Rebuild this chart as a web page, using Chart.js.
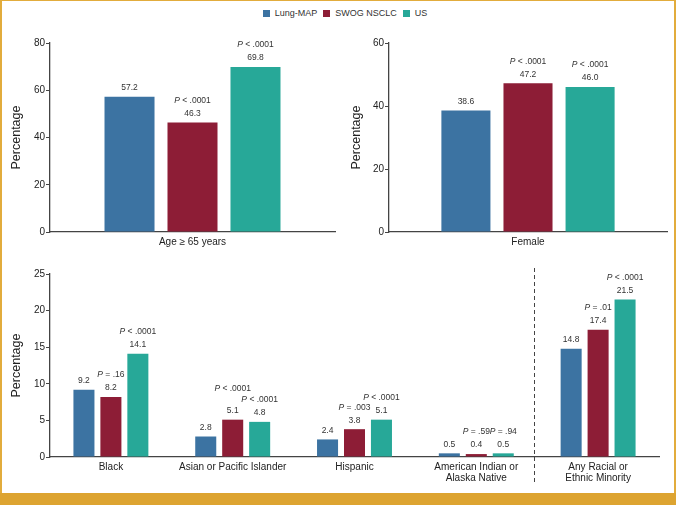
<!DOCTYPE html>
<html>
<head>
<meta charset="utf-8">
<script src="https://cdn.jsdelivr.net/npm/chart.js@4.4.1/dist/chart.umd.min.js"></script>
<style>
  html, body { margin: 0; padding: 0; background: #fff; }
  body { width: 676px; height: 505px; position: relative; overflow: hidden; font-family: "Liberation Sans", Arial, sans-serif; }
  #frame { position: absolute; left: 0; top: 0; width: 676px; height: 505px; box-sizing: border-box;
           border-top: 1px solid #E2AC3C; border-left: 2px solid #E2AC3C; border-right: 2px solid #E2AC3C; }
  #goldbar { position: absolute; left: 0; top: 493px; width: 676px; height: 12px; background: #DDA431; }
  #legend { position: absolute; left: 7px; top: 6px; width: 676px; text-align: center; font-size: 9px; color: #333; line-height: 14px; }
  #legend span.item { display: inline-block; margin: 0 3px; }
  #legend span.box { display: inline-block; width: 7px; height: 7px; margin-right: 5px; vertical-align: -0.5px; }
  .wrap { position: absolute; }
  .wrap canvas { display: block; }
</style>
</head>
<body>
<div id="frame"></div>
<div id="goldbar"></div>
<div id="legend"></div>
<div class="wrap" style="left:0;top:0;width:340px;height:260px;"><canvas id="c1" width="340" height="260"></canvas></div>
<div class="wrap" style="left:340px;top:0;width:336px;height:260px;"><canvas id="c2" width="336" height="260"></canvas></div>
<div class="wrap" style="left:0;top:255px;width:676px;height:238px;"><canvas id="c3" width="676" height="238"></canvas></div>
<script>
// ---------------- DATA ----------------
const seriesNames = ['Lung-MAP', 'SWOG NSCLC', 'US'];
const seriesColors = ['#3C73A2', '#8D1D36', '#27A898'];

const ageCategories = ['Age \u2265 65 years'];
const ageLungMap = [57.2];
const ageSwog = [46.3];
const ageUS = [69.8];
const ageSwogP = ['< .0001'];
const ageUSP = ['< .0001'];
const ageTicks = [0, 20, 40, 60, 80];

const femaleCategories = ['Female'];
const femaleLungMap = [38.6];
const femaleSwog = [47.2];
const femaleUS = [46.0];
const femaleSwogP = ['< .0001'];
const femaleUSP = ['< .0001'];
const femaleTicks = [0, 20, 40, 60];

const raceCategories = ['Black', 'Asian or Pacific Islander', 'Hispanic',
  ['American Indian or', 'Alaska Native'], ['Any Racial or', 'Ethnic Minority']];
const raceLungMap = [9.2, 2.8, 2.4, 0.5, 14.8];
const raceSwog = [8.2, 5.1, 3.8, 0.4, 17.4];
const raceUS = [14.1, 4.8, 5.1, 0.5, 21.5];
const raceSwogP = ['= .16', '< .0001', '= .003', '= .59', '= .01'];
const raceUSP = ['< .0001', '< .0001', '< .0001', '= .94', '< .0001'];
const raceTicks = [0, 5, 10, 15, 20, 25];

// ---------------- LEGEND ----------------
const legendEl = document.getElementById('legend');
seriesNames.forEach((n, i) => {
  const it = document.createElement('span');
  it.className = 'item';
  const b = document.createElement('span');
  b.className = 'box';
  b.style.background = seriesColors[i];
  it.appendChild(b);
  it.appendChild(document.createTextNode(n));
  legendEl.appendChild(it);
});

// ---------------- HELPERS ----------------
const FONT_FAMILY = '"Liberation Sans", Arial, sans-serif';
const VAL_FONT = '8.5px ' + FONT_FAMILY;
const P_FONT_IT = 'italic 8.5px ' + FONT_FAMILY;

function pWidth(ctx, rest) {
  ctx.font = P_FONT_IT; const w1 = ctx.measureText('P').width;
  ctx.font = VAL_FONT; const w2 = ctx.measureText(' ' + rest).width;
  return { w1, w2, w: w1 + w2 };
}

const barNotes = {
  id: 'barNotes',
  afterDatasetsDraw(chart, args, opts) {
    const ctx = chart.ctx;
    const n = chart.data.labels.length;
    ctx.save();
    ctx.textBaseline = 'middle';
    ctx.fillStyle = '#333';
    for (let i = 0; i < n; i++) {
      const items = [];
      chart.data.datasets.forEach((ds, d) => {
        const bar = chart.getDatasetMeta(d).data[i];
        const v = ds.data[i];
        const vy = bar.y - 9;
        ctx.font = VAL_FONT;
        ctx.textAlign = 'center';
        ctx.fillText(v.toFixed(1), bar.x, vy);
        const list = opts.pvalues && opts.pvalues[d];
        if (list && list[i]) items.push({ x: bar.x, y: vy - 13, text: list[i] });
      });
      for (let k = items.length - 2; k >= 0; k--) {
        const a = items[k], b = items[k + 1];
        const wa = pWidth(ctx, a.text).w, wb = pWidth(ctx, b.text).w;
        const overlapX = (a.x + wa / 2) - (b.x - wb / 2);
        if (overlapX > 3 && Math.abs(a.y - b.y) < 6) a.y = Math.min(a.y, b.y - 11);
      }
      items.forEach(it => {
        const m = pWidth(ctx, it.text);
        const x0 = it.x - m.w / 2;
        ctx.textAlign = 'left';
        ctx.font = P_FONT_IT;
        ctx.fillText('P', x0, it.y);
        ctx.font = VAL_FONT;
        ctx.fillText(' ' + it.text, x0 + m.w1, it.y);
      });
    }
    ctx.restore();
  }
};

const dividerLine = {
  id: 'dividerLine',
  afterDraw(chart, args, opts) {
    if (!opts || opts.afterIndex == null) return;
    const xs = chart.scales.x;
    const x = Math.round((xs.getPixelForValue(opts.afterIndex) + xs.getPixelForValue(opts.afterIndex + 1)) / 2) - 2.5;
    const ctx = chart.ctx;
    ctx.save();
    ctx.strokeStyle = '#444';
    ctx.lineWidth = 1;
    ctx.setLineDash([4, 3]);
    ctx.beginPath();
    ctx.moveTo(x, chart.chartArea.top - 6);
    ctx.lineTo(x, chart.height - 8);
    ctx.stroke();
    ctx.restore();
  }
};

function makeChart(id, labels, values, pvals, ticks, geom) {
  const datasets = values.map((vals, i) => ({
    label: seriesNames[i],
    data: vals,
    backgroundColor: seriesColors[i],
    borderWidth: 0,
    categoryPercentage: geom.cat,
    barPercentage: geom.bar
  }));
  return new Chart(document.getElementById(id), {
    type: 'bar',
    data: { labels, datasets },
    plugins: [barNotes, dividerLine],
    options: {
      responsive: false,
      animation: false,
      events: [],
      layout: { padding: { left: 0, top: geom.top, right: geom.right, bottom: geom.bottom } },
      plugins: {
        legend: { display: false },
        tooltip: { enabled: false },
        barNotes: { pvalues: pvals },
        dividerLine: { afterIndex: geom.divider }
      },
      scales: {
        x: {
          grid: { display: true, drawOnChartArea: false, drawTicks: false, color: '#444' },
          border: { display: true, color: '#444', width: 1.3 },
          ticks: { color: '#222', padding: 5, maxRotation: 0, autoSkip: false,
                   font: { family: FONT_FAMILY, size: 10, lineHeight: 1.1 } },
          afterFit(s) { s.height = geom.xh; }
        },
        y: {
          min: ticks[0], max: ticks[ticks.length - 1],
          grid: { display: true, drawOnChartArea: false, drawTicks: true, tickLength: 4, color: '#444', tickWidth: 1 },
          border: { display: true, color: '#444', width: 1.3 },
          ticks: { color: '#222', padding: 1, font: { family: FONT_FAMILY, size: 10 } },
          afterBuildTicks(s) { s.ticks = ticks.map(v => ({ value: v })); },
          title: { display: true, text: 'Percentage', color: '#222',
                   font: { family: FONT_FAMILY, size: 12.5 }, padding: { top: 9, bottom: 0 } },
          afterFit(s) { s.width = geom.yw; }
        }
      }
    }
  });
}

makeChart('c1', ageCategories, [ageLungMap, ageSwog, ageUS], [null, ageSwogP, ageUSP], ageTicks,
  { top: 43, right: 5, bottom: 6, xh: 22, yw: 50, cat: 0.663, bar: 0.794 });
makeChart('c2', femaleCategories, [femaleLungMap, femaleSwog, femaleUS], [null, femaleSwogP, femaleUSP], femaleTicks,
  { top: 43, right: 9, bottom: 6, xh: 22, yw: 49, cat: 0.67, bar: 0.79 });
makeChart('c3', raceCategories, [raceLungMap, raceSwog, raceUS], [null, raceSwogP, raceUSP], raceTicks,
  { top: 19, right: 17, bottom: 6, xh: 30, yw: 50, cat: 0.664, bar: 0.78, divider: 3 });
</script>
</body>
</html>
